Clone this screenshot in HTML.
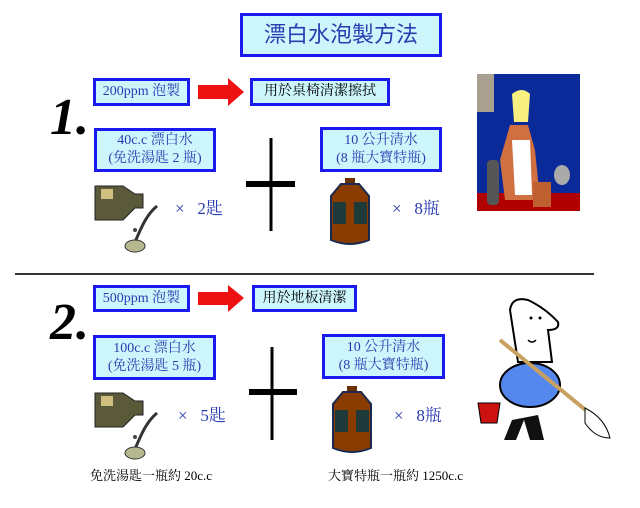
<!DOCTYPE html>
<html><head><meta charset="utf-8"><style>
body{margin:0;background:#fff;width:640px;height:508px;overflow:hidden;position:relative;font-family:"Liberation Serif","Noto Serif CJK TC","Noto Sans CJK TC",serif}
.b{position:absolute;box-sizing:border-box;border:3px solid #1a1af0;background:#ccf6fc;color:#2a3cb0;text-align:center;font-size:14px;line-height:18px;display:flex;flex-direction:column;justify-content:center}
.k{color:#000}
.t{position:absolute;font-size:17px;color:#2a3cb0}
.n{position:absolute;font-size:52px;font-style:italic;font-weight:bold;font-family:"Liberation Serif",serif;line-height:1}
.bt{position:absolute;font-size:13px;color:#000}
</style></head><body>
<div class="b" style="left:240px;top:13px;width:202px;height:44px;font-size:22px;font-family:'Liberation Sans','Noto Sans CJK TC',sans-serif">漂白水泡製方法</div>

<div class="n" style="left:50px;top:92px">1.</div>
<div class="b" style="left:93px;top:78px;width:97px;height:28px">200ppm 泡製</div>
<svg style="position:absolute;left:198px;top:78px" width="46" height="28"><polygon points="0,7 30,7 30,0 46,14 30,28 30,21 0,21" fill="#ee1111"/></svg>
<div class="b k" style="left:250px;top:78px;width:140px;height:28px">用於桌椅清潔擦拭</div>
<div class="b" style="left:94px;top:128px;width:122px;height:44px">40c.c 漂白水<br>(免洗湯匙 2 瓶)</div>
<div class="b" style="left:320px;top:127px;width:122px;height:45px">10 公升清水<br>(8 瓶大寶特瓶)</div>

<div class="b" style="left:93px;top:285px;width:97px;height:27px">500ppm 泡製</div>
<svg style="position:absolute;left:198px;top:285px" width="46" height="27"><polygon points="0,7 30,7 30,0 46,13 30,27 30,20 0,20" fill="#ee1111"/></svg>
<div class="b k" style="left:252px;top:285px;width:105px;height:27px">用於地板清潔</div>
<div class="n" style="left:50px;top:297px">2.</div>
<div class="b" style="left:93px;top:335px;width:123px;height:45px">100c.c 漂白水<br>(免洗湯匙 5 瓶)</div>
<div class="b" style="left:322px;top:334px;width:123px;height:45px">10 公升清水<br>(8 瓶大寶特瓶)</div>

<svg style="position:absolute;left:0;top:0" width="640" height="508">
<line x1="15" y1="274" x2="594" y2="274" stroke="#333" stroke-width="2"/>
<line x1="271" y1="138" x2="271" y2="231" stroke="#000" stroke-width="3"/>
<line x1="246" y1="184" x2="295" y2="184" stroke="#000" stroke-width="6"/>
<line x1="272" y1="347" x2="272" y2="440" stroke="#000" stroke-width="3"/>
<line x1="249" y1="392" x2="297" y2="392" stroke="#000" stroke-width="6"/>
<defs>
<g id="bleach"><path d="M0,0 h28 l12,8 h8 v14 h-8 l-12,12 h-28z" fill="#5a5a3a" stroke="#222"/><rect x="6" y="3" width="12" height="10" fill="#d0c080"/><circle cx="40" cy="44" r="2" fill="#444"/><path d="M62,20 C50,30 45,45 40,56" stroke="#333" stroke-width="3" fill="none"/><ellipse cx="40" cy="60" rx="10" ry="6" fill="#b8b890" stroke="#333"/></g>
<g id="bottle"><rect x="16" y="0" width="10" height="6" fill="#6b3000"/><path d="M12,6 h18 l10,12 v44 q-19,8 -38,0 v-44z" fill="#8a3c00" stroke="#1a2a50" stroke-width="2"/><rect x="4" y="24" width="34" height="22" fill="#1e3a3a"/><rect x="17" y="24" width="8" height="22" fill="#8a3c00"/></g>
</defs>
<use href="#bleach" x="95" y="186"/>
<use href="#bottle" x="329" y="178"/>
<use href="#bleach" x="95" y="393"/>
<use href="#bottle" x="331" y="386"/>
<!-- bartender -->
<rect x="477" y="74" width="103" height="137" fill="#0a2a9a"/>
<rect x="477" y="74" width="17" height="38" fill="#a8a090"/>
<rect x="477" y="193" width="103" height="18" fill="#b00000"/>
<path d="M510,125 L500,160 L505,200 L540,200 L535,150 L528,125z" fill="#d07040"/>
<path d="M512,140 L515,195 L532,195 L530,140z" fill="#fff"/>
<path d="M512,94 q10,-8 18,0 l-2,28 h-14z" fill="#f8f080"/>
<rect x="487" y="160" width="12" height="45" rx="4" fill="#555"/>
<rect x="533" y="182" width="18" height="25" fill="#c06030"/>
<ellipse cx="562" cy="175" rx="8" ry="10" fill="#aaa"/>
<!-- janitor -->
<path d="M518,362 L510,310 Q512,296 528,300 Q545,308 558,322 Q560,330 548,330 L552,362 z" fill="#fff" stroke="#000" stroke-width="2"/>
<circle cx="531" cy="318" r="1.5" fill="#000"/><circle cx="540" cy="318" r="1.5" fill="#000"/>
<path d="M528,340 q4,4 8,0" stroke="#000" fill="none" stroke-width="1.5"/>
<path d="M512,420 l-8,20 h12 l8,-20 l6,20 h14 l-6,-25z" fill="#111"/>
<ellipse cx="530" cy="385" rx="30" ry="22" fill="#5588ee" stroke="#000" stroke-width="2"/>
<line x1="500" y1="340" x2="588" y2="412" stroke="#c8a060" stroke-width="4"/>
<path d="M585,408 q20,10 25,30 q-15,0 -25,-15z" fill="#fff" stroke="#000"/>
<path d="M478,403 h22 l-3,20 h-16z" fill="#cc1111" stroke="#000"/>
</svg>

<div class="t" style="left:175px;top:194px">×&nbsp;&nbsp; 2匙</div>
<div class="t" style="left:392px;top:194px">×&nbsp;&nbsp; 8瓶</div>
<div class="t" style="left:178px;top:401px">×&nbsp;&nbsp; 5匙</div>
<div class="t" style="left:394px;top:401px">×&nbsp;&nbsp; 8瓶</div>
<div class="bt" style="left:90px;top:465px">免洗湯匙一瓶約 20c.c</div>
<div class="bt" style="left:328px;top:465px">大寶特瓶一瓶約 1250c.c</div>
</body></html>
